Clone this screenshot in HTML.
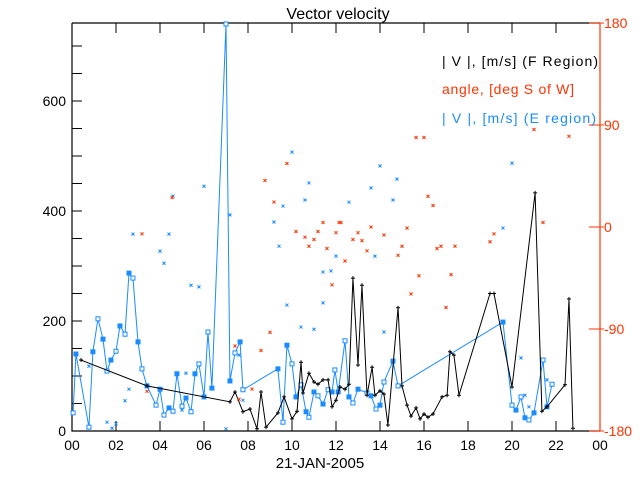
<!DOCTYPE html>
<html><head><meta charset="utf-8"><style>
body{margin:0;background:#fff;}
svg{display:block;font-family:"Liberation Sans",sans-serif;}
</style></head><body>
<svg id="chart" width="640" height="480" viewBox="0 0 640 480" xmlns="http://www.w3.org/2000/svg">
<rect width="640" height="480" fill="#fff"/>
<text x="338" y="19" font-size="16" text-anchor="middle" fill="#000">Vector velocity</text>
<g id="axes"></g>
<g id="marks"></g>
<g>
<text x="598" y="66" font-size="14" text-anchor="end" textLength="156" fill="#000">| V |, [m/s] (F Region)</text>
<text x="574" y="94" font-size="14" text-anchor="end" textLength="132" fill="#ff3300">angle, [deg S of W]</text>
<text x="596" y="123" font-size="14" text-anchor="end" textLength="154" fill="#1a8cff">| V |, [m/s] (E region)</text>
</g>
<text x="320" y="468" font-size="15" text-anchor="middle" fill="#000">21-JAN-2005</text>
</svg>
<script>
const fTimes=[0.41,3.41,7.18,7.41,7.77,8.09,8.41,8.59,8.82,9.36,9.64,10.0,10.23,10.41,10.5,10.77,11.0,11.18,11.41,11.64,11.82,12.0,12.18,12.41,12.59,12.77,13.0,13.18,13.41,13.64,13.77,14.0,14.18,14.36,14.82,15.0,15.23,15.41,15.64,15.82,16.0,16.18,16.41,16.82,17.05,17.18,17.36,17.59,19.0,19.18,20.0,21.05,21.36,21.59,22.41,22.59,22.77];
const fValues=[129,82,53,71,35,40,4,71,7,33,62,22,36,125,69,105,89,85,93,93,44,56,80,76,85,278,120,265,65,116,65,73,67,11,224,82,47,27,42,22,31,25,31,62,65,144,138,65,250,250,80,433,36,44,84,240,5];
const eTimes=[0.05,0.18,0.77,0.95,1.18,1.41,1.59,1.77,2.0,2.18,2.41,2.59,2.77,3.0,3.18,3.41,3.82,4.0,4.18,4.41,4.59,4.77,5.0,5.18,5.41,5.59,5.77,6.0,6.18,6.36,7.0,7.18,7.41,7.64,7.77,9.36,9.59,9.77,10.0,10.18,10.41,10.64,10.77,11.0,11.18,11.41,11.64,11.82,11.95,12.1,12.41,12.59,12.77,13.0,13.41,13.59,13.82,14.0,14.18,14.59,14.82,19.59,20.0,20.18,20.41,20.59,20.77,21.0,21.41,21.59,21.82];
const eValues=[33,140,7,144,204,167,109,129,145,191,176,287,278,162,113,82,47,76,29,42,36,104,45,60,35,104,122,62,180,78,740,91,142,162,75,113,16,156,122,62,84,35,25,71,64,49,75,71,111,71,164,62,51,76,69,64,40,47,89,127,82,198,47,38,62,24,20,33,129,44,85];
const eScatterTimes=[2.77,4.41,4.59,6.0,7.18,9.18,9.59,10.0,10.59,10.77,12.59,13.59,14.0,14.59,14.77,20.0,19.59,4.0,4.18,5.41,5.77,2.59,2.41,1.59,1.82,2.0,0.77,5.18,5.0,7.0,7.59,7.77,9.77,10.41,11.0,11.41,11.77,12.0,9.41,11.41,13.77,14.18,20.41,20.59,20.77,21.59];
const eScatterValues=[358,358,427,445,393,380,409,507,420,451,416,442,482,420,458,487,369,327,305,265,262,76,55,16,5,13,118,105,38,4,138,56,229,189,185,233,291,318,336,289,318,180,133,65,44,93];
const angleTimes=[3.18,4.55,3.41,7.41,7.59,8.59,9.0,8.18,8.77,9.77,9.18,10.18,10.59,11.0,11.18,11.41,12.0,12.14,10.77,11.59,11.82,15.64,16.0,21.0,22.59,16.18,16.41,12.23,13.0,13.59,14.18,15.23,19.18,21.41,12.77,13.18,13.41,15.0,14.82,12.41,16.77,16.59,17.41,15.77,17.23,15.41,17.0,19.0];
const angleValues=[-6,26,-145,-105,-152,-109,-93,-143,41,56,22,-4,-9,-11,-4,4,-5,4,-17,-19,-51,79,79,86,80,27,19,4,-5,0,-7,-1,-6,4,-11,-12,-21,-17,-25,-30,-17,-19,-17,-43,-42,-59,-71,-13];
const xTicks=["00","02","04","06","08","10","12","14","16","18","20","22","00"];
const yTicks=[0,200,400,600];
const aTicks=[-180,-90,0,90,180];

const NS="http://www.w3.org/2000/svg";
const L=72,R=600,T=23,B=431;
const xs=t=>L+t*(R-L)/24;
const ys=v=>B-v*0.55;
const ya=a=>B-(a+180)*(B-T)/360;
function mk(tag,attrs,parent){const e=document.createElementNS(NS,tag);for(const k in attrs)e.setAttribute(k,attrs[k]);parent.appendChild(e);return e;}
const axes=document.getElementById('axes'),marks=document.getElementById('marks');
let e;
e=mk('path',{d:`M${L},${T}H${R}M${L},${T}V${B}H${R}`,stroke:'#000',fill:'none','stroke-width':1.2},axes);


e=mk('line',{x1:R,y1:T,x2:R,y2:B,stroke:'#ff3300','stroke-width':1.2},axes);


xTicks.forEach((lab,i)=>{const x=xs(i*2);
 if(i>0&&i<12){e=mk('path',{d:`M${x},${T}v10M${x},${B}v-10`,stroke:'#000'},axes);
 
 }
 e=mk('text',{x:x,y:450,'font-size':14,'text-anchor':'middle',fill:'#000'},axes);e.textContent=lab;
 
 
});
for(let v=50;v<=700;v+=50){e=mk('line',{x1:L,y1:ys(v),x2:L+10,y2:ys(v),stroke:'#000'},axes);
 
 }
yTicks.forEach(v=>{e=mk('text',{x:66,y:ys(v)+5,'font-size':14,'text-anchor':'end',fill:'#000'},axes);e.textContent=v;
 
 });
aTicks.forEach(a=>{const y=ya(a);
 e=mk('line',{x1:R-11,y1:y,x2:R+4,y2:y,stroke:'#ff3300'},axes);
 
 
 e=mk('text',{x:604,y:y+5,'font-size':14,fill:'#ff3300'},axes);e.textContent=a;
 
 });
let d=eTimes.map((t,i)=>(i?'L':'M')+xs(t)+','+ys(eValues[i])).join('');
e=mk('path',{d:d,stroke:'#1a8cff',fill:'none','stroke-width':1},marks);


eTimes.forEach((t,i)=>{e=mk('rect',{x:xs(t)-2,y:ys(eValues[i])-2,width:4,height:4,fill:i%2?'#1a8cff':'#fff',stroke:'#1a8cff','stroke-width':1},marks);
 
 });
d=fTimes.map((t,i)=>(i?'L':'M')+xs(t)+','+ys(fValues[i])).join('');
e=mk('path',{d:d,stroke:'#000',fill:'none','stroke-width':1},marks);


fTimes.forEach((t,i)=>{const x=xs(t),y=ys(fValues[i]);
 e=mk('path',{d:`M${x-2},${y}h4M${x},${y-2}v4`,stroke:'#000'},marks);
 
 });
function cross(x,y,c){return mk('path',{d:`M${x-1.5},${y-1.5}l3,3M${x-1.5},${y+1.5}l3,-3`,stroke:c,'stroke-width':1},marks);}
eScatterTimes.forEach((t,i)=>{e=cross(xs(t),ys(eScatterValues[i]),'#1a8cff');
 
 });
angleTimes.forEach((t,i)=>{e=cross(xs(t),ya(angleValues[i]),'#ff3300');
 
 });
</script>
</body></html>
